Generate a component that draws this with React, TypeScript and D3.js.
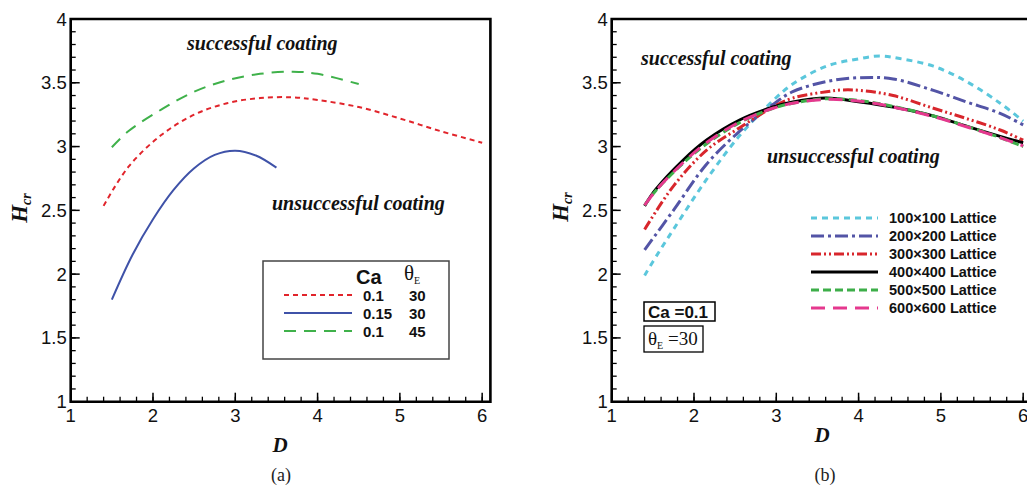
import React from 'react';
import * as d3 from 'd3';

const xMajor = [1, 2, 3, 4, 5, 6];
const yMajor = [1, 1.5, 2, 2.5, 3, 3.5, 4];
const xMinor = d3.range(1, 6.001, 0.2);
const yMinor = d3.range(1, 4.001, 0.1);

// Panel (a)
const aRedD = [1.4, 1.7, 2.1, 2.5, 2.9, 3.3, 3.7, 4.0, 4.5, 5.0, 5.5, 6.0];
const aRedH = [2.535, 2.84, 3.09, 3.25, 3.34, 3.38, 3.386, 3.365, 3.31, 3.22, 3.12, 3.03];
const aBlueD = [1.5, 1.75, 2.0, 2.25, 2.5, 2.75, 3.0, 3.25, 3.5];
const aBlueH = [1.8, 2.15, 2.43, 2.66, 2.83, 2.935, 2.968, 2.93, 2.835];
const aGreenD = [1.5, 1.7, 2.1, 2.5, 2.9, 3.3, 3.7, 4.0, 4.5];
const aGreenH = [2.995, 3.12, 3.29, 3.43, 3.52, 3.57, 3.587, 3.57, 3.49];
const aLegendCa = ['0.1', '0.15', '0.1'];
const aLegendTheta = ['30', '30', '45'];

// Panel (b)
const bCyanD = [1.4, 1.57, 1.75, 2.15, 2.56, 2.96, 3.2, 3.61, 4.02, 4.26, 4.5, 4.91, 5.31, 5.72, 6.0];
const bCyanH = [1.99, 2.17, 2.35, 2.74, 3.09, 3.36, 3.49, 3.63, 3.69, 3.71, 3.69, 3.63, 3.51, 3.34, 3.2];
const bBlueD = [1.4, 1.75, 2.15, 2.52, 2.96, 3.2, 3.61, 4.02, 4.42, 4.91, 5.31, 5.72, 6.0];
const bBlueH = [2.19, 2.5, 2.86, 3.1, 3.33, 3.43, 3.51, 3.54, 3.53, 3.44, 3.35, 3.26, 3.17];
const bRedD = [1.4, 1.75, 2.15, 2.56, 2.96, 3.2, 3.61, 3.81, 4.02, 4.42, 4.91, 5.31, 5.72, 6.0];
const bRedH = [2.35, 2.69, 2.97, 3.15, 3.31, 3.38, 3.43, 3.444, 3.44, 3.4, 3.3, 3.22, 3.13, 3.05];
const bD = [1.4, 1.53, 1.87, 2.15, 2.56, 2.96, 3.2, 3.61, 4.02, 4.42, 4.91, 5.31, 5.72, 6.0];
const bBlackH = [2.535, 2.66, 2.895, 3.05, 3.21, 3.31, 3.35, 3.38, 3.35, 3.31, 3.24, 3.16, 3.08, 3.03];
const bGreenH = [2.54, 2.65, 2.87, 3.02, 3.19, 3.3, 3.34, 3.375, 3.36, 3.315, 3.24, 3.16, 3.07, 3.0];
const bPinkH = [2.54, 2.65, 2.875, 3.03, 3.195, 3.3, 3.34, 3.37, 3.355, 3.31, 3.235, 3.155, 3.07, 3.005];
const bLabels = ['100\u00d7100 Lattice', '200\u00d7200 Lattice', '300\u00d7300 Lattice', '400\u00d7400 Lattice', '500\u00d7500 Lattice', '600\u00d7600 Lattice'];

const SANS = '"Liberation Sans", Arial, Helvetica, sans-serif';
const SERIF = '"Liberation Serif", "Times New Roman", serif';

type Series = { d: number[]; h: number[]; color: string; dash?: string; width: number };

function Axes({ x, y }: { x: d3.ScaleLinear<number, number>; y: d3.ScaleLinear<number, number> }) {
  const [x0, x1] = x.range();
  const [y0, y1] = y.range();
  return (
    <g>
      {xMinor.map((v, i) => (
        <line key={'xm' + i} x1={x(v)} x2={x(v)} y1={y0} y2={y0 - 5} stroke="#000" strokeWidth={1.3} />
      ))}
      {xMajor.map((v) => (
        <line key={'xM' + v} x1={x(v)} x2={x(v)} y1={y0} y2={y0 - 9} stroke="#000" strokeWidth={1.5} />
      ))}
      {yMinor.map((v, i) => (
        <line key={'ym' + i} x1={x0} x2={x0 + 5} y1={y(v)} y2={y(v)} stroke="#000" strokeWidth={1.3} />
      ))}
      {yMajor.map((v) => (
        <line key={'yM' + v} x1={x0} x2={x0 + 9} y1={y(v)} y2={y(v)} stroke="#000" strokeWidth={1.5} />
      ))}
      <path d={`M${x0},${y1}H${x1}V${y0}H${x0}Z`} fill="none" stroke="#000" strokeWidth={2.6} />
      {xMajor.map((v) => (
        <text key={'xl' + v} x={x(v)} y={y0 + 20} textAnchor="middle" fontFamily={SANS} fontSize={18.5} fill="#111">
          {v}
        </text>
      ))}
      {yMajor.map((v) => (
        <text key={'yl' + v} x={x0 - 4} y={y(v) + 6.5} textAnchor="end" fontFamily={SANS} fontSize={18.5} fill="#111">
          {v}
        </text>
      ))}
    </g>
  );
}

function Curves({ x, y, series }: { x: d3.ScaleLinear<number, number>; y: d3.ScaleLinear<number, number>; series: Series[] }) {
  return (
    <g>
      {series.map((s, i) => {
        const pts = s.d.map((dv, j) => [dv, s.h[j]] as [number, number]);
        const line = d3
          .line<[number, number]>()
          .x((p) => x(p[0]))
          .y((p) => y(p[1]))
          .curve(d3.curveCatmullRom.alpha(0.5));
        return (
          <path key={i} d={line(pts) || ''} fill="none" stroke={s.color} strokeWidth={s.width} strokeDasharray={s.dash} />
        );
      })}
    </g>
  );
}

function HcrTitle({ bx, cy }: { bx: number; cy: number }) {
  return (
    <text transform={`translate(${bx},${cy}) rotate(-90)`} textAnchor="middle" fontFamily={SERIF} fontWeight="bold" fontStyle="italic" fontSize={23} fill="#111">
      H<tspan fontSize={14} dy={4}>cr</tspan>
    </text>
  );
}

function Note({ x, y, text }: { x: number; y: number; text: string }) {
  return (
    <text x={x} y={y} fontFamily={SERIF} fontWeight="bold" fontStyle="italic" fontSize={20} fill="#111">
      {text}
    </text>
  );
}

export default function App() {
  const xa = d3.scaleLinear().domain([1, 6.1]).range([70.7, 490.4]);
  const ya = d3.scaleLinear().domain([1, 4]).range([401.7, 19]);
  const xb = d3.scaleLinear().domain([1, 6.1]).range([611.7, 1031.4]);
  const yb = d3.scaleLinear().domain([1, 4]).range([401.7, 19]);

  const aSeries: Series[] = [
    { d: aRedD, h: aRedH, color: '#e1242b', dash: '5,4', width: 2 },
    { d: aBlueD, h: aBlueH, color: '#3f52a8', width: 2 },
    { d: aGreenD, h: aGreenH, color: '#3fb14a', dash: '12,8', width: 2 },
  ];
  const bSeries: Series[] = [
    { d: bCyanD, h: bCyanH, color: '#5bc7dc', dash: '6,5', width: 3 },
    { d: bBlueD, h: bBlueH, color: '#5354a6', dash: '13,4,3,4', width: 3 },
    { d: bRedD, h: bRedH, color: '#d8262c', dash: '10,3,2,3,2,3', width: 3 },
    { d: bD, h: bBlackH, color: '#000000', width: 3 },
    { d: bD, h: bGreenH, color: '#3dae49', dash: '8,4', width: 3 },
    { d: bD, h: bPinkH, color: '#e5388e', dash: '14,8', width: 3 },
  ];

  const legA = { x0: 284, x1: 352, rows: [295, 313, 331] };
  const legB = { x0: 811, x1: 878, rows: [218, 236, 254, 272, 290, 308] };

  return (
    <svg width={1027} height={487} style={{ position: 'absolute', left: 0, top: 0, background: '#fff' }}>
      <rect x={0} y={0} width={1027} height={487} fill="#fff" />
      {/* Panel (a) */}
      <Curves x={xa} y={ya} series={aSeries} />
      <Axes x={xa} y={ya} />
      <HcrTitle bx={27} cy={208} />
      <text x={280} y={452} textAnchor="middle" fontFamily={SERIF} fontWeight="bold" fontStyle="italic" fontSize={21} fill="#111">D</text>
      <text x={281} y={481} textAnchor="middle" fontFamily={SERIF} fontSize={18} fill="#222">(a)</text>
      <Note x={187} y={50} text="successful coating" />
      <Note x={272} y={210} text="unsuccessful coating" />
      <rect x={263} y={261} width={186} height={98} fill="none" stroke="#444" strokeWidth={1.5} />
      <text x={356} y={284} fontFamily={SANS} fontWeight="bold" fontSize={20} fill="#111">Ca</text>
      <text x={404} y={280} fontFamily={SERIF} fontSize={21} fill="#111">
        θ<tspan fontSize={10} dy={4}>E</tspan>
      </text>
      {aSeries.map((s, i) => (
        <g key={'la' + i}>
          <line x1={legA.x0} x2={legA.x1} y1={legA.rows[i]} y2={legA.rows[i]} stroke={s.color} strokeWidth={s.width} strokeDasharray={s.dash} />
          <text x={363} y={legA.rows[i] + 5.5} fontFamily={SANS} fontWeight="bold" fontSize={15} fill="#111">{aLegendCa[i]}</text>
          <text x={409} y={legA.rows[i] + 5.5} fontFamily={SANS} fontWeight="bold" fontSize={15} fill="#111">{aLegendTheta[i]}</text>
        </g>
      ))}

      {/* Panel (b) */}
      <Curves x={xb} y={yb} series={bSeries} />
      <Axes x={xb} y={yb} />
      <HcrTitle bx={568} cy={207} />
      <text x={822} y={442} textAnchor="middle" fontFamily={SERIF} fontWeight="bold" fontStyle="italic" fontSize={21} fill="#111">D</text>
      <text x={825} y={481} textAnchor="middle" fontFamily={SERIF} fontSize={18} fill="#222">(b)</text>
      <Note x={641} y={65} text="successful coating" />
      <Note x={767} y={163} text="unsuccessful coating" />
      {bSeries.map((s, i) => (
        <g key={'lb' + i}>
          <line x1={legB.x0} x2={legB.x1} y1={legB.rows[i]} y2={legB.rows[i]} stroke={s.color} strokeWidth={s.width} strokeDasharray={s.dash} />
          <text x={889} y={legB.rows[i] + 5} fontFamily={SANS} fontWeight="bold" fontSize={14.5} fill="#111">{bLabels[i]}</text>
        </g>
      ))}
      <rect x={644} y={302} width={71} height={19} fill="none" stroke="#000" strokeWidth={1.5} />
      <text x={648} y={318} fontFamily={SANS} fontWeight="bold" fontSize={17} fill="#111">Ca =0.1</text>
      <rect x={644} y={326} width={59} height={26} fill="none" stroke="#000" strokeWidth={1.3} />
      <text x={648} y={345} fontFamily={SERIF} fontSize={19} fill="#111">
        θ<tspan fontSize={10} dy={4}>E</tspan><tspan dy={-4}> =30</tspan>
      </text>
    </svg>
  );
}
